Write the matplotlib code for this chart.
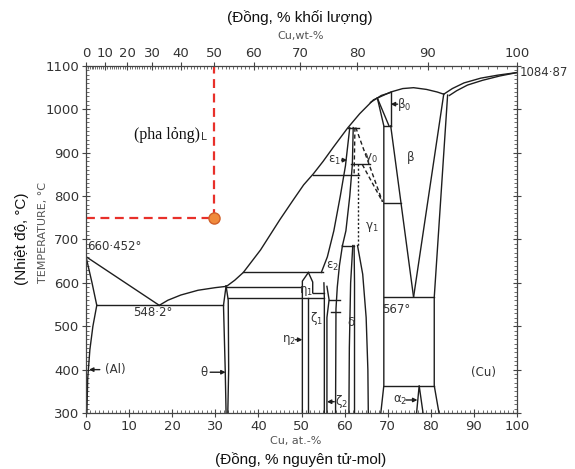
import numpy as np
import matplotlib
matplotlib.use("Agg")
import matplotlib.pyplot as plt
from matplotlib.ticker import MultipleLocator

# ---------------- data (Cu at.-%, temperature degC) ----------------
at_ticks = list(range(0, 101, 10))
t_ticks = list(range(300, 1101, 100))
wt_ticks = list(range(0, 101, 10))

liq_al = [(0, 660.452), (17.0, 548.2)]
liq_mid = [(17.0, 548.2), (19, 560), (22, 572), (26, 583), (30, 589), (32.6, 592),
           (34.5, 606), (36.5, 624), (40.5, 676), (45, 746), (48, 790), (50.5, 826),
           (52.8, 852), (55, 880), (57.4, 913), (60.7, 957), (63.5, 990), (66.7, 1022),
           (70.7, 1040), (73.5, 1048), (76, 1050), (79, 1046), (81.5, 1040), (83, 1035)]
liq_cu = [(83, 1035), (85, 1048), (87.7, 1061), (91.6, 1072), (95.6, 1079), (100, 1084.87)]
sol_cu = [(84.3, 1032), (86, 1043), (88.5, 1056), (92, 1067), (96, 1077), (100, 1084.87)]
sol_beta = [(66.0, 1016), (68.5, 1032), (70.7, 1039)]
sol_al = [(0, 660.452), (1.4, 600), (2.5, 548.2)]
solv_al = [(2.5, 548.2), (1.6, 500), (0.9, 446), (0.4, 380), (0.2, 300)]
theta_l = [(32.5, 593), (31.9, 548.2), (32.3, 400), (32.5, 300)]
theta_r = [(32.5, 593), (33.0, 560), (33.1, 400), (32.9, 300)]
eta_l = [(51.6, 624), (50.2, 604), (50.2, 300)]
eta1_r = [(51.6, 624), (52.6, 602), (52.6, 577)]
eta2_r = [(51.4, 565), (51.4, 300)]
zeta2_l = [(55.2, 600), (55.3, 565), (55.3, 300)]
zeta2_r = [(55.9, 592), (56.4, 561), (55.9, 520), (55.9, 300)]
eps_l = [(54.6, 624), (56.0, 660), (57.5, 720), (59.0, 800), (60.2, 870), (61.2, 958)]
eps_r = [(62.0, 958), (61.8, 873), (61.2, 800), (60.3, 720), (59.5, 686)]
delta_l = [(59.5, 686), (58.8, 640), (58.3, 590), (58.0, 540), (57.9, 300)]
delta_r = [(61.9, 686), (61.4, 600), (61.1, 450), (61.0, 300)]
gam1_l = [(62.2, 686), (62.3, 600), (62.3, 450), (62.3, 300)]
gam1_curve = [(63.0, 686), (64.2, 620), (65.0, 520), (65.4, 400), (65.5, 300)]
gam_r = [(67.6, 1026), (69.1, 962), (69.1, 363), (68.4, 300)]
beta0_l = [(67.6, 1026), (70.3, 962)]
beta0_r = [(70.7, 1040), (70.7, 962)]
beta_l = [(70.7, 962), (76.0, 567)]
beta_r = [(83.0, 1035), (76.0, 567)]
cu_solv = [(83.9, 1033), (80.8, 567), (80.8, 363), (81.9, 300)]
alpha2 = [(76.7, 300), (77.3, 363), (78.2, 300)]
horizontals = [
    (2.5, 31.9, 548.2), (32.6, 50.2, 591), (33.0, 55.3, 565), (36.5, 55.0, 624),
    (52.6, 55.3, 577), (56.4, 59.0, 561), (56.8, 59.0, 533),
    (52.6, 63.3, 848), (61.4, 66.0, 873), (60.7, 63.3, 958), (59.5, 62.2, 686),
    (69.1, 70.7, 962), (69.1, 73.0, 784), (69.1, 80.8, 567), (69.1, 80.8, 363),
]
dashed = [
    [(62.4, 958), (62.2, 848)],
    [(62.6, 958), (68.8, 787)],
    [(64.1, 873), (68.8, 787)],
]
dotted = [[(63.0, 873), (63.0, 686)]]

mark_at, mark_t = 29.8, 750   # 50 wt-% Cu at 750 degC

labels = [
    ("660·452°", 0.3, 684, "left"), ("548·2°", 15.5, 531, "center"),
    ("(Al)", 4.3, 400, "left"), ("θ", 27.4, 394, "center"),
    ("η$_2$", 47.2, 469, "center"), ("ζ$_1$", 53.4, 517, "center"),
    ("η$_1$", 51.1, 581, "center"), ("ε$_2$", 57.1, 637, "center"),
    ("δ", 61.4, 508, "center"), ("ζ$_2$", 59.2, 326, "center"),
    ("γ$_1$", 66.3, 729, "center"), ("γ$_0$", 66.1, 889, "center"),
    ("ε$_1$", 57.6, 883, "center"), ("β$_0$", 73.9, 1012, "center"),
    ("β", 75.3, 888, "center"), ("567°", 72.0, 538, "center"),
    ("(Cu)", 92.3, 393, "center"), ("α$_2$", 72.8, 330, "center"),
]
arrows = [
    ((3.2, 400), (0.7, 400)), ((28.8, 394), (32.4, 394)), ((48.6, 469), (50.2, 469)),
    ((57.6, 326), (55.9, 326)), ((59.3, 883), (60.6, 883)), ((72.3, 1012), (70.7, 1012)),
    ((74.2, 330), (76.9, 330)),
]

# ---------------- conversion for the top (wt-%) axis ----------------
M_CU, M_AL = 63.546, 26.982


def at2wt(a):
    a = np.clip(np.asarray(a, dtype=float), 0, 100)
    return 100 * a * M_CU / (a * M_CU + (100 - a) * M_AL)


def wt2at(w):
    w = np.clip(np.asarray(w, dtype=float), 0, 100)
    return 100 * (w / M_CU) / (w / M_CU + (100 - w) / M_AL)


# ---------------- figure ----------------
fig = plt.figure(figsize=(5.75, 4.69), dpi=100)
ax = fig.add_axes([86 / 575, 1 - 413 / 469, (517 - 86) / 575, (413 - 66) / 469])
ax.set_xlim(0, 100)
ax.set_ylim(300, 1100)

lc = "#1e1e1e"
lw = 1.0


def pl(pts, **kw):
    xs, ys = zip(*pts)
    ax.plot(xs, ys, color=kw.pop("color", lc), lw=kw.pop("lw", lw), **kw)


for seg in [liq_al, liq_mid, liq_cu, sol_cu, sol_beta, sol_al, solv_al, theta_l, theta_r,
            eta_l, eta1_r, eta2_r, zeta2_l, zeta2_r, eps_l, eps_r, delta_l, delta_r,
            gam1_l, gam1_curve, gam_r, beta0_l, beta0_r, beta_l, beta_r, cu_solv, alpha2]:
    pl(seg)
for x0, x1, t in horizontals:
    pl([(x0, t), (x1, t)])
for seg in dashed:
    pl(seg, ls=(0, (3, 2)))
for seg in dotted:
    pl(seg, ls=(0, (1.5, 1.5)))

# marker & guide lines
red = "#e8302a"
ax.plot([0, mark_at], [mark_t, mark_t], color=red, lw=1.6, ls=(0, (4, 2.5)))
ax.plot([mark_at, mark_at], [mark_t, 1100], color=red, lw=1.6, ls=(0, (4, 2.5)))
ax.plot([mark_at], [mark_t], "o", ms=8, mfc="#f08a3c", mec="#d0602a", mew=1)

tc = "#333333"
for txt, x, y, ha in labels:
    ax.text(x, y, txt, fontsize=8.5, color=tc, ha=ha, va="center")
for (x0, y0), (x1, y1) in arrows:
    ax.annotate("", xy=(x1, y1), xytext=(x0, y0),
                arrowprops=dict(arrowstyle="-|>", lw=1.0, color=lc,
                                mutation_scale=6, shrinkA=0, shrinkB=0))
ax.text(100.6, 1084.87, "1084·87", fontsize=8.5, color=tc, ha="left",
        va="center", clip_on=False)
ax.text(26.4, 941, "(pha lỏng)", fontsize=11.5, family="Liberation Serif",
        color="#111111", ha="right", va="center")
ax.text(26.7, 937, "L", fontsize=7.5, color=tc, ha="left", va="center")

# axes styling
for s in ax.spines.values():
    s.set_color("#444444")
    s.set_linewidth(0.9)
ax.set_xticks(at_ticks)
ax.set_yticks(t_ticks)
ax.xaxis.set_minor_locator(MultipleLocator(1))
ax.yaxis.set_minor_locator(MultipleLocator(10))
ax.tick_params(which="major", direction="inout", length=6, width=0.8, colors="#444444",
               labelsize=9.5, labelcolor=tc, pad=2, right=True)
ax.tick_params(which="minor", direction="in", length=2.5, width=0.6, colors="#555555",
               right=True)
ax.tick_params(axis="y", which="major", labelright=False)

sec = ax.secondary_xaxis("top", functions=(at2wt, wt2at))
sec.set_xticks(wt_ticks)
sec.xaxis.set_minor_locator(MultipleLocator(1))
sec.tick_params(which="major", direction="inout", length=6, width=0.8, colors="#444444",
                labelsize=9.5, labelcolor=tc, pad=1)
sec.tick_params(which="minor", direction="in", length=2.5, width=0.6, colors="#555555")
sec.spines["top"].set_visible(False)

# axis titles
fig.text(0.522, 0.962, "(Đồng, % khối lượng)", fontsize=11, family="Liberation Sans",
         color="#111111", ha="center", va="center")
fig.text(0.522, 0.923, "Cu,wt-%", fontsize=8, color="#555555", ha="center", va="center")
fig.text(0.515, 0.060, "Cu, at.-%", fontsize=8, color="#555555", ha="center", va="center")
fig.text(0.522, 0.021, "(Đồng, % nguyên tử-mol)", fontsize=11, family="Liberation Sans",
         color="#111111", ha="center", va="center")
fig.text(0.038, 0.49, "(Nhiệt độ, °C)", fontsize=11, family="Liberation Sans",
         color="#111111", ha="center", va="center", rotation=90)
fig.text(0.075, 0.505, "TEMPERATURE, °C", fontsize=8, color="#555555", ha="center",
         va="center", rotation=90)

fig.savefig("out.png", dpi=100)
